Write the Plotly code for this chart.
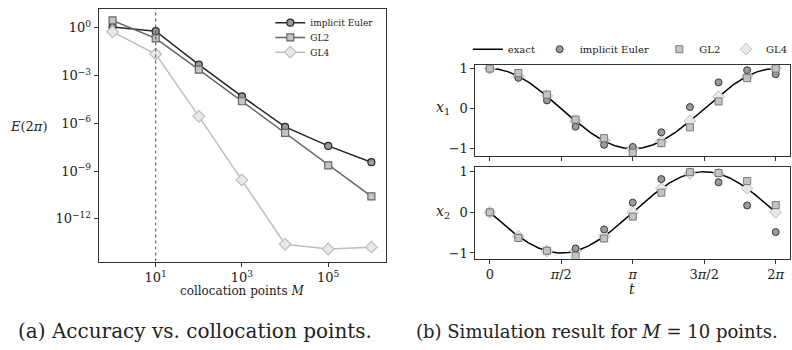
import numpy as np
import plotly.graph_objects as go

# ---- (a) error at t = 2*pi versus number of collocation points ----
M = [1, 10, 100, 1e3, 1e4, 1e5, 1e6]
err_implicit_euler = [1.1, 0.59, 4.8e-3, 4.9e-5, 5.9e-7, 3.8e-8, 3.6e-9]
err_gl2 = [2.8, 0.21, 2.3e-3, 2.4e-5, 2.5e-7, 2.3e-9, 2.6e-11]
err_gl4 = [0.54, 0.022, 2.7e-6, 2.8e-10, 2.6e-14, 1.3e-14, 1.7e-14]

# ---- (b) simulation with M = 10 points ----
t_pts = np.linspace(0, 2 * np.pi, 11)
x1_ie = [1.0, 0.77, 0.205, -0.45, -0.90, -0.955, -0.59, 0.04, 0.655, 0.96, 0.86]
x1_gl2 = [1.0, 0.89, 0.35, -0.27, -0.735, -1.10, -0.86, -0.466, 0.18, 0.76, 1.0]
x1_gl4 = [1.0, 0.81, 0.32, -0.31, -0.79, -1.0, -0.82, -0.31, 0.30, 0.81, 1.02]
x2_ie = [0.0, -0.62, -0.945, -0.89, -0.42, 0.24, 0.82, 0.99, 0.74, 0.17, -0.485]
x2_gl2 = [0.0, -0.63, -0.945, -1.07, -0.645, -0.105, 0.485, 0.99, 0.97, 0.77, 0.18]
x2_gl4 = [0.0, -0.59, -0.95, -0.95, -0.59, 0.0, 0.59, 0.96, 0.95, 0.59, 0.0]

# exact solution of the oscillator
t_fine = np.linspace(0, 2 * np.pi, 400)
x1_exact = np.cos(t_fine)
x2_exact = -np.sin(t_fine)

t_tickvals = [0, np.pi / 2, np.pi, 3 * np.pi / 2, 2 * np.pi]
t_ticktext = ["0", "<i>π</i>/2", "<i>π</i>", "3<i>π</i>/2", "2<i>π</i>"]
err_tickvals = [1, 1e-3, 1e-6, 1e-9, 1e-12]
err_ticktext = ["10<sup>0</sup>", "10<sup>−3</sup>", "10<sup>−6</sup>",
                "10<sup>−9</sup>", "10<sup>−12</sup>"]
M_tickvals = [10, 1e3, 1e5]
M_ticktext = ["10<sup>1</sup>", "10<sup>3</sup>", "10<sup>5</sup>"]

W, H = 792, 350
FONT = "DejaVu Serif"

# greyscale scheme
C_IE_LINE, C_IE_FILL = "#262626", "#9a9a9a"
C_GL2_LINE, C_GL2_FILL = "#666666", "#c4c4c4"
C_GL4_LINE, C_GL4_FILL = "#bdbdbd", "#e8e8e8"


def px_x(p):
    return p / W


def px_y(p):
    return 1 - p / H


fig = go.Figure()

# left panel: convergence curves, one legend box per entry
fig.add_trace(go.Scatter(
    x=M, y=err_implicit_euler, mode="lines+markers", name="implicit Euler",
    line=dict(color=C_IE_LINE, width=1.5),
    marker=dict(symbol="circle", size=7, color=C_IE_FILL, line=dict(color=C_IE_LINE, width=1.2)),
    xaxis="x", yaxis="y", legend="legend"))
fig.add_trace(go.Scatter(
    x=M, y=err_gl2, mode="lines+markers", name="GL2",
    line=dict(color=C_GL2_LINE, width=1.5),
    marker=dict(symbol="square", size=7, color=C_GL2_FILL, line=dict(color=C_GL2_LINE, width=1.2)),
    xaxis="x", yaxis="y", legend="legend2"))
fig.add_trace(go.Scatter(
    x=M, y=err_gl4, mode="lines+markers", name="GL4",
    line=dict(color=C_GL4_LINE, width=1.5),
    marker=dict(symbol="diamond", size=9, color=C_GL4_FILL, line=dict(color=C_GL4_LINE, width=1.2)),
    xaxis="x", yaxis="y", legend="legend3"))

# right panel: trajectories x1 (top) and x2 (bottom)
for ax_x, ax_y, exact, ie, gl2, gl4, show in [
        ("x2", "y2", x1_exact, x1_ie, x1_gl2, x1_gl4, True),
        ("x3", "y3", x2_exact, x2_ie, x2_gl2, x2_gl4, False)]:
    fig.add_trace(go.Scatter(
        x=t_fine, y=exact, mode="lines", name="exact",
        line=dict(color="black", width=1.5),
        xaxis=ax_x, yaxis=ax_y, legend="legend4", showlegend=show))
    fig.add_trace(go.Scatter(
        x=t_pts, y=gl4, mode="markers", name="GL4",
        marker=dict(symbol="diamond", size=9, color=C_GL4_FILL, line=dict(color=C_GL4_LINE, width=1)),
        xaxis=ax_x, yaxis=ax_y, legend="legend7", showlegend=show))
    fig.add_trace(go.Scatter(
        x=t_pts, y=ie, mode="markers", name="implicit Euler",
        marker=dict(symbol="circle", size=7, color=C_IE_FILL, line=dict(color="#3a3a3a", width=1)),
        xaxis=ax_x, yaxis=ax_y, legend="legend5", showlegend=show))
    fig.add_trace(go.Scatter(
        x=t_pts, y=gl2, mode="markers", name="GL2",
        marker=dict(symbol="square", size=7, color=C_GL2_FILL, line=dict(color="#7a7a7a", width=1)),
        xaxis=ax_x, yaxis=ax_y, legend="legend6", showlegend=show))

axis_common = dict(showgrid=False, zeroline=False, showline=True, mirror=True,
                   linecolor="#333333", linewidth=1, ticks="outside", ticklen=4,
                   tickcolor="#333333", tickfont=dict(family=FONT, size=13, color="#222222"))


def legend_at(x_px, y_px, size):
    return dict(x=px_x(x_px), y=px_y(y_px), xanchor="left", yanchor="middle",
                bgcolor="rgba(0,0,0,0)", borderwidth=0, itemwidth=30,
                font=dict(family=FONT, size=size, color="#222222"))


fig.update_layout(
    width=W, height=H, margin=dict(l=0, r=0, t=0, b=0),
    paper_bgcolor="white", plot_bgcolor="white",
    font=dict(family=FONT, color="#222222"),
    xaxis=dict(type="log", domain=[px_x(99), px_x(387)], range=[-0.32, 6.34],
               tickvals=M_tickvals, ticktext=M_ticktext, anchor="y", **axis_common),
    yaxis=dict(type="log", domain=[px_y(262), px_y(5)], range=[-14.67, 1.17],
               tickvals=err_tickvals, ticktext=err_ticktext, anchor="x", **axis_common),
    xaxis2=dict(domain=[px_x(476.7), 1.0], range=[-0.314, 6.597], tickvals=t_tickvals,
                showticklabels=False, anchor="y2", **axis_common),
    yaxis2=dict(domain=[px_y(155), px_y(62.3)], range=[-1.189, 1.083], tickvals=[-1, 0, 1],
                ticktext=["−1", "0", "1"], anchor="x2", **axis_common),
    xaxis3=dict(domain=[px_x(476.7), 1.0], range=[-0.314, 6.597], tickvals=t_tickvals,
                ticktext=t_ticktext, anchor="y3", **axis_common),
    yaxis3=dict(domain=[px_y(259.3), px_y(166)], range=[-1.145, 1.114], tickvals=[-1, 0, 1],
                ticktext=["−1", "0", "1"], anchor="x3", **axis_common),
    legend=legend_at(271, 19, 9),
    legend2=legend_at(271, 34, 9),
    legend3=legend_at(271, 49, 9),
    legend4=legend_at(469, 46, 10),
    legend5=legend_at(541, 46, 10),
    legend6=legend_at(661, 46, 10),
    legend7=legend_at(728, 46, 10),
    showlegend=True,
)

# dotted marker at M = 10
fig.add_shape(type="line", xref="x", yref="paper", x0=10, x1=10,
              y0=px_y(262), y1=px_y(5), line=dict(color="#444444", width=1, dash="dot"))

annotations = [
    dict(x=px_x(29), y=px_y(125), text="<i>E</i>(2<i>π</i>)", size=13),
    dict(x=px_x(243), y=px_y(292), text="collocation points <i>M</i>", size=12),
    dict(x=px_x(444), y=px_y(106), text="<i>x</i><sub>1</sub>", size=14),
    dict(x=px_x(444), y=px_y(212), text="<i>x</i><sub>2</sub>", size=14),
    dict(x=px_x(634), y=px_y(290), text="<i>t</i>", size=14),
    dict(x=px_x(16), y=px_y(333), text="(a) Accuracy vs. collocation points.", size=20,
         xanchor="left"),
    dict(x=px_x(415), y=px_y(333), text="(b) Simulation result for <i>M</i> = 10 points.",
         size=18, xanchor="left"),
]
for a in annotations:
    fig.add_annotation(x=a["x"], y=a["y"], xref="paper", yref="paper", text=a["text"],
                       showarrow=False, xanchor=a.get("xanchor", "center"), yanchor="middle",
                       font=dict(family=FONT, size=a["size"], color="#222222"))

fig.write_html("out.html")
